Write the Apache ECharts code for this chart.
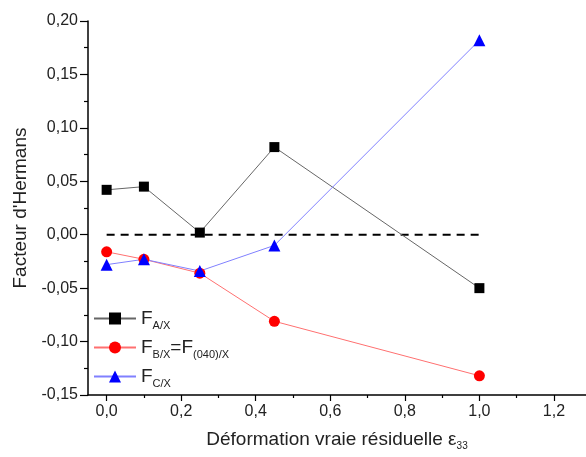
<!DOCTYPE html>
<html><head><meta charset="utf-8">
<script src="https://cdn.jsdelivr.net/npm/echarts@6/dist/echarts.min.js"></script>
<style>html,body{margin:0;padding:0;background:#fff}#c{width:586px;height:457px}</style>
</head><body><div id="c"></div>
<script>
var strain = [0, 0.1, 0.25, 0.45, 1.0];
var fAX = [0.042, 0.045, 0.002, 0.082, -0.050];
var fBX = [-0.016, -0.023, -0.036, -0.081, -0.132];
var fCX = [-0.028, -0.023, -0.034, -0.010, 0.182];
var refLineX = [0, 1.0];
var refLineY = [0, 0];
var xLabelValues = [0, 0.2, 0.4, 0.6, 0.8, 1.0, 1.2];
var xMinorValues = [0.1, 0.3, 0.5, 0.7, 0.9, 1.1];

function pairs(xs, ys){ return xs.map(function(x,i){ return [x, ys[i]]; }); }
function comma(v, d){ return v.toFixed(d).replace('.', ','); }

var font = 'Liberation Sans, Arial, sans-serif';
var gridBox = {left: 88, top: 21, right: 0, height: 374};
var chart = echarts.init(document.getElementById('c'), null, {renderer:'canvas'});
chart.setOption({
  animation: false,
  grid: [
    Object.assign({containLabel: false}, gridBox),
    Object.assign({containLabel: false}, gridBox)
  ],
  xAxis: [{
    gridIndex: 0, type: 'value', min: -0.05, max: 1.286,
    name: '{a|Déformation vraie résiduelle ε}{b|33}',
    nameLocation: 'middle', nameGap: 34,
    nameTextStyle: {
      rich: {
        a: {fontFamily: font, fontSize: 19, color: '#222'},
        b: {fontFamily: font, fontSize: 10, color: '#222', padding: [12,0,0,0]}
      }
    },
    axisLine: {show: true, onZero: false, lineStyle: {color: '#000', width: 1.5}},
    axisTick: {show: true, customValues: xLabelValues, length: 6, lineStyle: {color:'#000', width: 1.2}},
    axisLabel: {customValues: xLabelValues, formatter: function(v){ return comma(v,1); }, fontFamily: font, fontSize: 16, color: '#222', margin: 9},
    splitLine: {show: false}
  }, {
    gridIndex: 1, type: 'value', min: -0.05, max: 1.286,
    axisLine: {show: false, onZero: false},
    axisTick: {show: true, customValues: xMinorValues, length: 3, lineStyle: {color:'#000', width: 1.2}},
    axisLabel: {show: false},
    splitLine: {show: false}
  }],
  yAxis: [{
    gridIndex: 0, type: 'value', min: -0.15, max: 0.20, interval: 0.05,
    name: "Facteur d'Hermans", nameLocation: 'middle', nameGap: 57,
    nameTextStyle: {fontFamily: font, fontSize: 19, color: '#222'},
    axisLine: {show: true, onZero: false, lineStyle: {color: '#000', width: 1.5}},
    axisTick: {show: true, length: 8, lineStyle: {color:'#000', width: 1.2}},
    minorTick: {show: true, splitNumber: 2, length: 4, lineStyle: {color:'#000', width: 1.2}},
    axisLabel: {formatter: function(v){ return comma(v,2); }, fontFamily: font, fontSize: 16, color: '#222', margin: 10},
    splitLine: {show: false}
  }, {
    gridIndex: 1, type: 'value', min: -0.15, max: 0.20, show: false
  }],
  legend: {
    orient: 'vertical', left: 88, top: 304, itemGap: 7,
    itemWidth: 42, itemHeight: 15,
    data: ['A', 'B', 'C'],
    formatter: function(n){
      if (n === 'A') return '{f|F}{s|A/X}';
      if (n === 'B') return '{f|F}{s|B/X}{f|=F}{s|(040)/X}';
      return '{f|F}{s|C/X}';
    },
    textStyle: {
      rich: {
        f: {fontFamily: font, fontSize: 19, color: '#222'},
        s: {fontFamily: font, fontSize: 11, color: '#222', padding: [14,0,0,0]}
      }
    }
  },
  series: [
    {name: 'ref', type: 'line', data: pairs(refLineX, refLineY), symbol: 'none', silent: true,
     lineStyle: {color: '#000', width: 2, type: [8,6]}, z: 1},
    {name: 'A', type: 'line', data: pairs(strain, fAX), symbol: 'rect', symbolSize: 10,
     itemStyle: {color: '#000'}, lineStyle: {color: '#666', width: 1}},
    {name: 'B', type: 'line', data: pairs(strain, fBX), symbol: 'circle', symbolSize: 11,
     itemStyle: {color: '#ff0000'}, lineStyle: {color: '#ff7070', width: 1}},
    {name: 'C', type: 'line', data: pairs(strain, fCX), symbol: 'triangle', symbolSize: 12,
     itemStyle: {color: '#0000ff'}, lineStyle: {color: '#8080ff', width: 1}}
  ]
});
</script></body></html>
